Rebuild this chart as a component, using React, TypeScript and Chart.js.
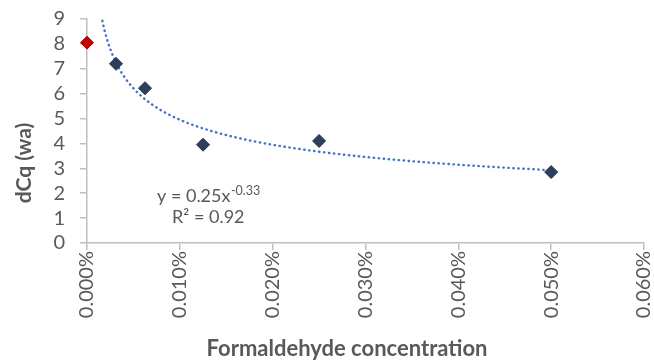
import React, { useEffect, useRef } from "react";
import { Chart, registerables } from "chart.js";

Chart.register(...registerables);

// Concentrations in percent
const controlX = [0];
const controlY = [8.05];
const sampleX = [0.003125, 0.00625, 0.0125, 0.025, 0.05];
const sampleY = [7.2, 6.22, 3.95, 4.1, 2.85];
const xTicks = [0, 0.01, 0.02, 0.03, 0.04, 0.05, 0.06];
const yTicks = [0, 1, 2, 3, 4, 5, 6, 7, 8, 9];
const equationText = ["y = 0.25x", "-0.33", "R² = 0.92"];
const xTitle = "Formaldehyde concentration";
const yTitle = "dCq (wa)";

// Power-law trendline fitted (least squares in log space) from sample data, x as fraction
function powerFit(xs: number[], ys: number[]) {
  const lx = xs.map((v) => Math.log(v / 100));
  const ly = ys.map((v) => Math.log(v));
  const n = lx.length;
  const mx = lx.reduce((a, b) => a + b, 0) / n;
  const my = ly.reduce((a, b) => a + b, 0) / n;
  let sxy = 0, sxx = 0;
  for (let i = 0; i < n; i++) {
    sxy += (lx[i] - mx) * (ly[i] - my);
    sxx += (lx[i] - mx) * (lx[i] - mx);
  }
  const b = sxy / sxx;
  const a = Math.exp(my - b * mx);
  return { a, b };
}

const GREY = "#595959";
const FONT = "Lato, 'Open Sans', sans-serif";

export default function App() {
  const ref = useRef<HTMLCanvasElement>(null);
  useEffect(() => {
    if (!ref.current) return;
    const { a, b } = powerFit(sampleX, sampleY);
    const trend: { x: number; y: number }[] = [];
    const x0 = 0.0012, x1 = sampleX[sampleX.length - 1];
    const steps = 200;
    for (let i = 0; i <= steps; i++) {
      const xp = x0 * Math.pow(x1 / x0, i / steps);
      trend.push({ x: xp, y: a * Math.pow(xp / 100, b) });
    }

    const textPlugin = {
      id: "texts",
      afterDraw(chart: any) {
        const ctx = chart.ctx;
        ctx.save();
        ctx.fillStyle = GREY;
        ctx.textBaseline = "alphabetic";
        ctx.textAlign = "left";
        // trendline equation
        ctx.font = `18px ${FONT}`;
        const base = equationText[0];
        const w = ctx.measureText(base).width;
        ctx.fillText(base, 157, 202);
        ctx.font = `12.5px ${FONT}`;
        ctx.fillText(equationText[1], 157 + w + 0.5, 195);
        ctx.font = `18px ${FONT}`;
        ctx.fillText(equationText[2], 172, 223);
        // axis titles
        ctx.font = `bold 22px ${FONT}`;
        ctx.textAlign = "center";
        ctx.textBaseline = "middle";
        ctx.fillText(xTitle, 347, 349);
        ctx.translate(24, 163);
        ctx.rotate(-Math.PI / 2);
        ctx.font = `bold 21px ${FONT}`;
        ctx.fillText(yTitle, 0, 0);
        ctx.restore();
      },
    };

    const chart = new Chart(ref.current, {
      type: "scatter",
      data: {
        datasets: [
          {
            label: "trend",
            type: "line",
            data: trend,
            borderColor: "#4472C4",
            borderWidth: 2.4,
            borderDash: [0.4, 4.6],
            borderCapStyle: "round",
            pointRadius: 0,
            fill: false,
            tension: 0,
            order: 2,
          } as any,
          {
            label: "samples",
            data: sampleX.map((x, i) => ({ x, y: sampleY[i] })),
            pointStyle: "rectRot",
            pointRadius: 6.5,
            backgroundColor: "#2E3F5E",
            borderColor: "#22314D",
            borderWidth: 1,
            clip: false,
            order: 1,
          },
          {
            label: "control",
            data: controlX.map((x, i) => ({ x, y: controlY[i] })),
            pointStyle: "rectRot",
            pointRadius: 6.5,
            backgroundColor: "#C00000",
            borderColor: "#B40000",
            borderWidth: 1,
            clip: false,
            order: 0,
          },
        ],
      },
      options: {
        animation: false,
        responsive: false,
        maintainAspectRatio: false,
        layout: { padding: { top: 19, right: 10, left: 0, bottom: 0 } },
        plugins: { legend: { display: false }, tooltip: { enabled: false } },
        scales: {
          x: {
            type: "linear",
            min: xTicks[0],
            max: xTicks[xTicks.length - 1],
            afterBuildTicks: (s: any) => {
              s.ticks = xTicks.map((v) => ({ value: v }));
            },
            afterFit: (s: any) => {
              s.height = 119;
              s.paddingLeft = 0;
              s.paddingRight = 0;
            },
            border: { color: "#BFBFBF", width: 1.5 },
            grid: { display: true, drawOnChartArea: false, drawTicks: true, tickLength: 7, color: "#BFBFBF", lineWidth: 1.5 },
            ticks: {
              autoSkip: false,
              minRotation: 90,
              maxRotation: 90,
              padding: 1,
              color: GREY,
              font: { family: FONT, size: 20 },
              callback: (v: any) => Number(v).toFixed(3) + "%",
            },
            title: { display: false },
          },
          y: {
            type: "linear",
            min: yTicks[0],
            max: yTicks[yTicks.length - 1],
            afterBuildTicks: (s: any) => {
              s.ticks = yTicks.map((v) => ({ value: v }));
            },
            afterFit: (s: any) => {
              s.width = 87;
              s.paddingTop = 0;
              s.paddingBottom = 0;
            },
            border: { color: "#BFBFBF", width: 1.5 },
            grid: { display: true, drawOnChartArea: false, drawTicks: true, tickLength: 7, color: "#BFBFBF", lineWidth: 1.5 },
            ticks: {
              autoSkip: false,
              padding: 15,
              color: GREY,
              font: { family: FONT, size: 20 },
              callback: (v: any) => String(v),
            },
            title: { display: false },
          },
        },
      },
      plugins: [textPlugin],
    } as any);
    return () => chart.destroy();
  }, []);

  return (
    <div style={{ position: "fixed", left: 0, top: 0, width: 654, height: 362, background: "#fff" }}>
      <canvas ref={ref} width={654} height={362} style={{ width: 654, height: 362 }} />
    </div>
  );
}
